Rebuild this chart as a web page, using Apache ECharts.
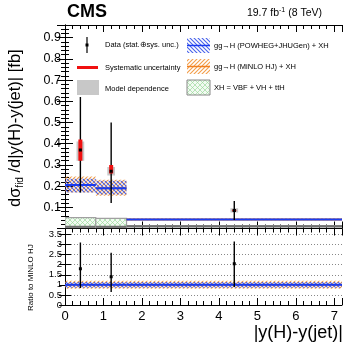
<!DOCTYPE html>
<html><head><meta charset="utf-8">
<script src="https://cdn.jsdelivr.net/npm/echarts@6/dist/echarts.min.js"></script>
<style>html,body{margin:0;padding:0;background:#fff}#c{width:357px;height:351px}</style>
</head><body><div id="c"></div>
<script>
// ---- data ----
const binEdges = [0, 0.8, 1.6, 7.2];
const dataX = [0.4, 1.2, 4.4];
const dataY = [0.37, 0.27, 0.085];
const dataLo = [0.17, 0.12, 0.04];
const dataHi = [0.62, 0.50, 0.13];
const systLo = [0.32, 0.26, 0.081];
const systHi = [0.42, 0.30, 0.089];
const modelLo = [0.32, 0.25, 0.075];
const modelHi = [0.41, 0.29, 0.095];
const powheg = [0.205, 0.19, 0.043];
const powhegLo = [0.17, 0.16, 0.040];
const powhegHi = [0.235, 0.225, 0.046];
const minlo = [0.205, 0.19, 0.043];
const minloLo = [0.17, 0.155, 0.039];
const minloHi = [0.245, 0.23, 0.047];
const xh = [0.008, 0.008, 0.011];
const xhLo = [0.004, 0.004, 0.008];
const xhHi = [0.051, 0.048, 0.014];
const ratioY = [1.8, 1.4, 2.05];
const ratioLo = [0.85, 0.65, 0.9];
const ratioHi = [3.1, 2.6, 3.15];
const powhegRatio = [1, 1, 1];
const powhegRatioLo = [0.86, 0.86, 0.86];
const powhegRatioHi = [1.14, 1.14, 1.14];
const minloRatio = [1, 1, 1];
const minloRatioLo = [0.81, 0.81, 0.81];
const minloRatioHi = [1.2, 1.2, 1.2];
const xTicks = [0, 1, 2, 3, 4, 5, 6, 7];

// ---- patterns ----
function hatch(color, dir, size, bg, lw) {
  const c = document.createElement('canvas'); c.width = size; c.height = size;
  const g = c.getContext('2d');
  if (bg) { g.fillStyle = bg; g.fillRect(0, 0, size, size); }
  g.strokeStyle = color; g.lineWidth = lw || 1.1;
  g.beginPath();
  const s = size;
  if (dir >= 0) { g.moveTo(-1, s + 1); g.lineTo(s + 1, -1); g.moveTo(-1, 1); g.lineTo(1, -1); g.moveTo(s - 1, s + 1); g.lineTo(s + 1, s - 1); }
  if (dir <= 0) { g.moveTo(-1, -1); g.lineTo(s + 1, s + 1); g.moveTo(-1, s - 1); g.lineTo(1, s + 1); g.moveTo(s - 1, -1); g.lineTo(s + 1, 1); }
  g.stroke();
  return { image: c, repeat: 'repeat' };
}
const bluePat = hatch('rgba(40,70,230,0.85)', -1, 4, null);
const orangePat = hatch('rgba(240,140,40,0.85)', 1, 4, null);
const greenPat = hatch('rgba(150,215,150,0.8)', 0, 5, 'rgba(242,250,242,1)', 0.8);

function bins(c, lo, hi) {
  return c.map((v, i) => [binEdges[i], binEdges[i + 1], lo[i], hi[i], v]);
}
function bandRender(fill, lineColor, lineW, border) {
  return function (params, api) {
    const x0 = api.value(0), x1 = api.value(1), lo = api.value(2), hi = api.value(3), c = api.value(4);
    const p0 = api.coord([x0, hi]), p1 = api.coord([x1, lo]);
    const q0 = api.coord([x0, c]), q1 = api.coord([x1, c]);
    const ch = [{ type: 'rect', shape: { x: p0[0], y: p0[1], width: p1[0] - p0[0], height: p1[1] - p0[1] },
      style: { fill: fill, stroke: border || null, lineWidth: border ? 1.2 : 0 } }];
    if (lineColor) ch.push({ type: 'line', shape: { x1: q0[0], y1: q0[1], x2: q1[0], y2: q1[1] }, style: { stroke: lineColor, lineWidth: lineW } });
    return { type: 'group', children: ch };
  };
}
function errRender(params, api) {
  const x = api.value(0), y = api.value(1), lo = api.value(2), hi = api.value(3);
  const a = api.coord([x, hi]), b = api.coord([x, lo]), p = api.coord([x, y]);
  return { type: 'group', children: [
    { type: 'line', shape: { x1: a[0], y1: a[1], x2: b[0], y2: b[1] }, style: { stroke: '#000', lineWidth: 1.4 } },
    { type: 'rect', shape: { x: p[0] - 1.5, y: p[1] - 1.5, width: 3, height: 3 }, style: { fill: '#000' } }
  ] };
}
function systRender(params, api) {
  const x = api.value(0), lo = api.value(1), hi = api.value(2);
  const a = api.coord([x, hi]), b = api.coord([x, lo]);
  return { type: 'rect', shape: { x: a[0] - 2, y: a[1], width: 4, height: b[1] - a[1] }, style: { fill: '#f01010' } };
}
function modelRender(params, api) {
  const x = api.value(0), lo = api.value(1), hi = api.value(2);
  const a = api.coord([x - 0.1, hi]), b = api.coord([x + 0.1, lo]);
  return { type: 'rect', shape: { x: a[0], y: a[1], width: b[0] - a[0], height: b[1] - a[1] }, style: { fill: '#c8c8c8' } };
}

const FONT = 'Liberation Sans, Arial, sans-serif';
const chart = echarts.init(document.getElementById('c'));
const G0 = { left: 65, top: 25, width: 277, height: 203.5 };
const G1 = { left: 65, top: 228.5, width: 277, height: 76.5 };
function xAx(grid, pos, labels, line) {
  return { type: 'value', gridIndex: grid, position: pos, min: 0, max: 7.2, interval: 1,
    axisLine: { show: line, onZero: false, lineStyle: { color: '#000', width: 1 } },
    axisTick: { inside: true, length: 7, lineStyle: { color: '#000' } },
    minorTick: { show: true, splitNumber: 5, length: 4, lineStyle: { color: '#000' } },
    splitLine: { show: false },
    axisLabel: { show: labels, fontSize: 13, color: '#000', fontFamily: FONT, margin: 5, showMaxLabel: false,
      formatter: v => xTicks.includes(v) ? String(v) : '' } };
}
const option = {
  animation: false,
  grid: [G0, G1],
  xAxis: [xAx(0, 'bottom', false, false), xAx(0, 'top', false, true), xAx(1, 'bottom', true, true), xAx(1, 'top', false, true)],
  yAxis: [
    { type: 'value', gridIndex: 0, position: 'left', min: 0, max: 0.96, interval: 0.1,
      axisLine: { show: true, lineStyle: { color: '#000' } },
      axisTick: { inside: true, length: 8, lineStyle: { color: '#000' } },
      minorTick: { show: true, splitNumber: 5, length: 4, lineStyle: { color: '#000' } },
      splitLine: { show: false },
      axisLabel: { fontSize: 12.5, color: '#000', fontFamily: FONT, margin: 4, showMinLabel: false, showMaxLabel: false, formatter: v => v.toFixed(1) } },
    { type: 'value', gridIndex: 0, position: 'right', min: 0, max: 0.96, interval: 0.1,
      axisLine: { show: true, lineStyle: { color: '#000' } },
      axisTick: { inside: true, length: 8, lineStyle: { color: '#000' } },
      minorTick: { show: true, splitNumber: 5, length: 4, lineStyle: { color: '#000' } },
      splitLine: { show: false }, axisLabel: { show: false } },
    { type: 'value', gridIndex: 1, position: 'left', min: 0, max: 3.8, interval: 0.5,
      axisLine: { show: true, lineStyle: { color: '#000' } },
      axisTick: { inside: true, length: 6, lineStyle: { color: '#000' } },
      splitLine: { show: true, lineStyle: { color: '#888', type: [1, 2], width: 1 } },
      axisLabel: { fontSize: 9.5, color: '#000', fontFamily: FONT, margin: 3, showMaxLabel: false, formatter: v => String(+v.toFixed(1)) } },
    { type: 'value', gridIndex: 1, position: 'right', min: 0, max: 3.8, interval: 0.5,
      axisLine: { show: true, lineStyle: { color: '#000' } },
      axisTick: { inside: true, length: 6, lineStyle: { color: '#000' } },
      splitLine: { show: false }, axisLabel: { show: false } }
  ],
  series: [
    { type: 'custom', xAxisIndex: 0, yAxisIndex: 0, clip: true, renderItem: bandRender(greenPat, '#707070', 2, '#a0a0a0'), data: bins(xh, xhLo, xhHi), z: 2 },
    { type: 'custom', xAxisIndex: 0, yAxisIndex: 0, clip: true, renderItem: bandRender(orangePat, '#f08020', 2), data: bins(minlo, minloLo, minloHi), z: 3 },
    { type: 'custom', xAxisIndex: 0, yAxisIndex: 0, clip: true, renderItem: bandRender(bluePat, '#1a3cf0', 2), data: bins(powheg, powhegLo, powhegHi), z: 4 },
    { type: 'custom', xAxisIndex: 0, yAxisIndex: 0, clip: true, renderItem: modelRender, data: dataX.map((x, i) => [x, modelLo[i], modelHi[i]]), z: 5 },
    { type: 'custom', xAxisIndex: 0, yAxisIndex: 0, clip: true, renderItem: errRender, data: dataX.map((x, i) => [x, dataY[i], dataLo[i], dataHi[i]]), z: 6 },
    { type: 'custom', xAxisIndex: 0, yAxisIndex: 0, clip: true, renderItem: systRender, data: dataX.map((x, i) => [x, systLo[i], systHi[i]]), z: 7 },
    { type: 'custom', xAxisIndex: 0, yAxisIndex: 0, clip: true, renderItem: function (p, api) { const q = api.coord([api.value(0), api.value(1)]); return { type: 'rect', shape: { x: q[0] - 1.5, y: q[1] - 1.5, width: 3, height: 3 }, style: { fill: '#000' } }; }, data: dataX.map((x, i) => [x, dataY[i]]), z: 8 },
    { type: 'custom', xAxisIndex: 2, yAxisIndex: 2, clip: true, renderItem: bandRender(orangePat, '#f08020', 1.5), data: bins(minloRatio, minloRatioLo, minloRatioHi), z: 3 },
    { type: 'custom', xAxisIndex: 2, yAxisIndex: 2, clip: true, renderItem: bandRender(bluePat, '#1a3cf0', 2), data: bins(powhegRatio, powhegRatioLo, powhegRatioHi), z: 4 },
    { type: 'custom', xAxisIndex: 2, yAxisIndex: 2, clip: true, renderItem: errRender, data: dataX.map((x, i) => [x, ratioY[i], ratioLo[i], ratioHi[i]]), z: 6 }
  ],
  graphic: [
    { type: 'text', left: 67, top: 3, style: { text: 'CMS', font: 'bold 18px ' + FONT, fill: '#000' } },
    { type: 'text', right: 35, top: 7, style: { rich: { n: { fontSize: 10.5, fontFamily: FONT }, s: { fontSize: 7, fontFamily: FONT, verticalAlign: 'top', padding: [0, 0, 5, 0] } }, text: '{n|19.7 fb}{s|-1}{n| (8 TeV)}', fill: '#000' } },
    { type: 'text', x: 6, y: 207, rotation: Math.PI / 2, style: { rich: { n: { fontSize: 16.5, fontFamily: FONT }, s: { fontSize: 10, fontFamily: FONT, padding: [9, 0, 0, 0] } }, text: '{n|dσ}{s|fid}{n| /d|y(H)-y(jet)| [fb]}', fill: '#000', verticalAlign: 'top' } },
    { type: 'text', x: 27, y: 311, rotation: Math.PI / 2, style: { text: 'Ratio to MiNLO HJ', font: '8px ' + FONT, fill: '#000', verticalAlign: 'top' } },
    { type: 'text', right: 14, top: 324, style: { text: '|y(H)-y(jet)|', font: '18px ' + FONT, fill: '#000' } },
    // legend
    { type: 'line', shape: { x1: 87, y1: 37, x2: 87, y2: 53 }, style: { stroke: '#000', lineWidth: 1.2 } },
    { type: 'rect', shape: { x: 85.5, y: 43.5, width: 3, height: 3 }, style: { fill: '#000' } },
    { type: 'text', x: 105, y: 45, style: { text: 'Data (stat.⊕sys. unc.)', font: '7.5px ' + FONT, fill: '#000', verticalAlign: 'middle' } },
    { type: 'line', shape: { x1: 77, y1: 67.5, x2: 98, y2: 67.5 }, style: { stroke: '#f01010', lineWidth: 3 } },
    { type: 'text', x: 105, y: 68, style: { text: 'Systematic uncertainty', font: '7.5px ' + FONT, fill: '#000', verticalAlign: 'middle' } },
    { type: 'rect', shape: { x: 77, y: 80, width: 22, height: 15 }, style: { fill: '#c8c8c8' } },
    { type: 'text', x: 105, y: 89, style: { text: 'Model dependence', font: '7.5px ' + FONT, fill: '#000', verticalAlign: 'middle' } },
    { type: 'rect', shape: { x: 187, y: 38, width: 23, height: 15 }, style: { fill: bluePat } },
    { type: 'line', shape: { x1: 187, y1: 45.5, x2: 210, y2: 45.5 }, style: { stroke: '#1a3cf0', lineWidth: 1.5 } },
    { type: 'text', x: 214, y: 46, style: { text: 'gg→H (POWHEG+JHUGen) + XH', font: '7.5px ' + FONT, fill: '#000', verticalAlign: 'middle' } },
    { type: 'rect', shape: { x: 187, y: 59, width: 23, height: 15 }, style: { fill: orangePat } },
    { type: 'line', shape: { x1: 187, y1: 66.5, x2: 210, y2: 66.5 }, style: { stroke: '#f08020', lineWidth: 1.5 } },
    { type: 'text', x: 214, y: 67, style: { text: 'gg→H (MiNLO HJ) + XH', font: '7.5px ' + FONT, fill: '#000', verticalAlign: 'middle' } },
    { type: 'rect', shape: { x: 187, y: 80, width: 23, height: 15 }, style: { fill: greenPat, stroke: '#888', lineWidth: 1 } },
    { type: 'text', x: 214, y: 88, style: { text: 'XH = VBF + VH + ttH', font: '7.5px ' + FONT, fill: '#000', verticalAlign: 'middle' } }
  ]
};
chart.setOption(option);
</script></body></html>
